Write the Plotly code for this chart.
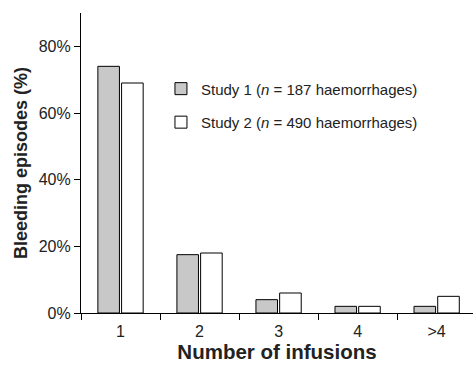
import plotly.graph_objects as go

categories = ["1", "2", "3", "4", ">4"]
study1 = [74, 17.5, 4, 2, 2]
study2 = [69, 18, 6, 2, 5]
names = ["Study 1 (<i>n</i> = 187 haemorrhages)", "Study 2 (<i>n</i> = 490 haemorrhages)"]
ytick_vals = [0, 20, 40, 60, 80]
ytick_text = ["0%", "20%", "40%", "60%", "80%"]

fig = go.Figure()
fig.add_trace(go.Bar(x=categories, y=study1, name=names[0], legendgroup="a",
                     marker=dict(color="#c8c8c8", line=dict(color="black", width=1))))
fig.add_trace(go.Bar(x=categories, y=study2, name=names[1], legendgroup="b",
                     marker=dict(color="white", line=dict(color="black", width=1))))

fig.update_layout(
    width=473, height=366,
    margin=dict(l=81, r=0, t=13, b=53),
    paper_bgcolor="white", plot_bgcolor="white",
    barmode="group", bargap=0.40, bargroupgap=0.09,
    font=dict(family="Liberation Sans, Arial, sans-serif", color="#222", size=15),
    legend=dict(x=0.204, y=0.802, xanchor="left", yanchor="top",
                font=dict(size=15), bgcolor="rgba(0,0,0,0)",
                traceorder="grouped", tracegroupgap=11, itemwidth=30),
    showlegend=True,
)
fig.update_xaxes(
    type="category", range=[-0.5, 4.46],
    showline=True, linecolor="black", linewidth=1.2,
    ticks="outside", tickson="boundaries", ticklen=6, tickcolor="black",
    showgrid=False, zeroline=False,
    ticklabelstandoff=4,
    title=dict(text="<b>Number of infusions</b>", font=dict(size=20.5), standoff=1),
    tickfont=dict(size=16),
)
fig.update_yaxes(
    range=[0, 90],
    tickvals=ytick_vals, ticktext=ytick_text,
    showline=True, linecolor="black", linewidth=1.2,
    ticks="outside", ticklen=6, tickcolor="black",
    showgrid=False, zeroline=False,
    title=dict(text="<b>Bleeding episodes (%)</b>", font=dict(size=18), standoff=6),
    tickfont=dict(size=16),
)
fig.write_html("out.html")
